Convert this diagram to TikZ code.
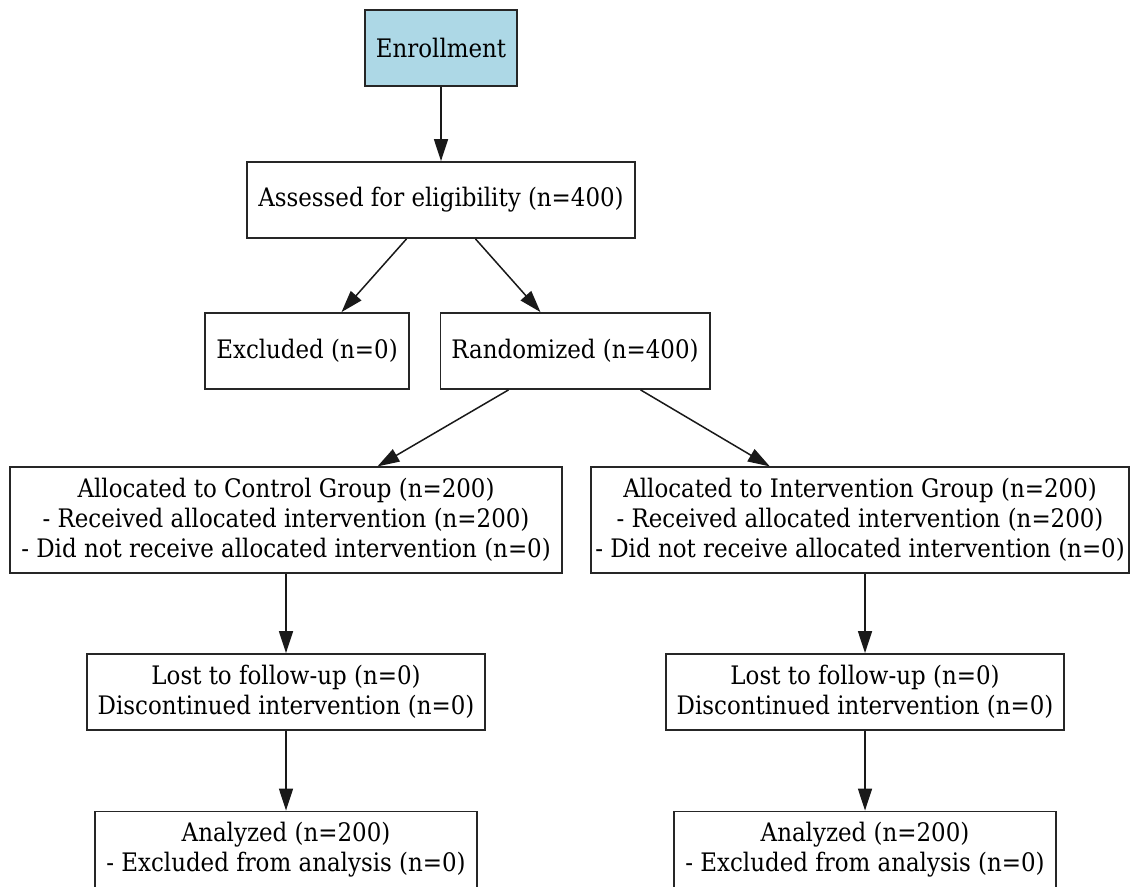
\documentclass[tikz,border=0pt]{standalone}
\usepackage{fontspec}
\setmainfont{DejaVu Serif Condensed}
\usetikzlibrary{
    arrows.meta,
    positioning,
}
\definecolor{enrollblue}{HTML}{ADD8E6}

\begin{document}
\begin{tikzpicture}[
    x=1pt, y=-1pt,
    font=\fontsize{25.5}{30}\selectfont,
    stage/.style={draw=black!85, line width=1.8pt, rectangle, align=center, inner xsep=11pt, inner ysep=11pt, minimum height=76pt},
    entry/.style={stage, fill=enrollblue},
    flow/.style={-{Triangle[length=22pt, width=14pt]}, line width=1.5pt, black!90},
]

\clip (0,0) rectangle (1132,886);

\node[entry] (enroll) at (441,48) {Enrollment};
\node[stage] (assess) at (441,200) {Assessed for eligibility (n=400)};

\node[stage] (excl) at (307,351) {Excluded (n=0)};
\node[stage] (rand) at (575,351) {Randomized (n=400)};

\node[stage] (allocC) at (286,520) {Allocated to Control Group (n=200)\\- Received allocated intervention (n=200)\\- Did not receive allocated intervention (n=0)};
\node[stage, inner xsep=4pt] (allocI) at (860,520) {Allocated to Intervention Group (n=200)\\- Received allocated intervention (n=200)\\- Did not receive allocated intervention (n=0)};

\node[stage] (lostC) at (286,692) {Lost to follow-up (n=0)\\Discontinued intervention (n=0)};
\node[stage] (lostI) at (865,692) {Lost to follow-up (n=0)\\Discontinued intervention (n=0)};

\node[stage] (anaC) at (286,850) {Analyzed (n=200)\\- Excluded from analysis (n=0)};
\node[stage] (anaI) at (865,850) {Analyzed (n=200)\\- Excluded from analysis (n=0)};

\draw[flow] (enroll) -- (assess);
\draw[flow] (assess) -- (excl);
\draw[flow] (assess) -- (rand);
\draw[flow] (rand) -- (allocC);
\draw[flow] (rand) -- (allocI);
\draw[flow] (allocC) -- (lostC);
\draw[flow] (allocI.south -| lostI.north) -- (lostI.north);
\draw[flow] (lostC) -- (anaC);
\draw[flow] (lostI) -- (anaI);

\end{tikzpicture}
\end{document}
